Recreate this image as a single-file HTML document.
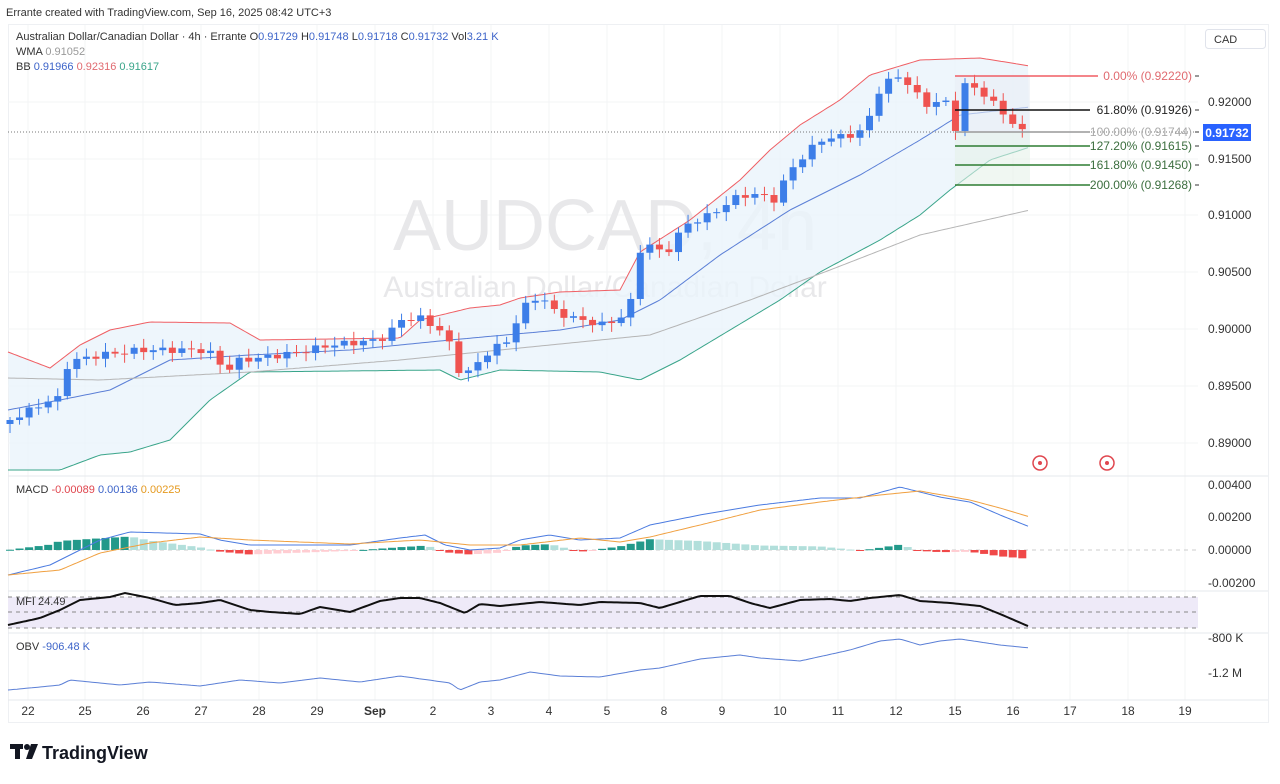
<!DOCTYPE html>
<html><head><meta charset="utf-8">
<style>
html,body{margin:0;padding:0;background:#fff;}
body{width:1280px;height:779px;overflow:hidden;font-family:"Liberation Sans",sans-serif;}
svg text{font-family:"Liberation Sans",sans-serif;}
</style></head>
<body>
<svg id="s" width="1280" height="779" xmlns="http://www.w3.org/2000/svg"></svg>
<script>
const S=document.getElementById('s');
let h='';
function interp(pts,x){ if(x<=pts[0][0])return pts[0][1]; for(let i=1;i<pts.length;i++){ if(x<=pts[i][0]){const a=pts[i-1],b=pts[i];return a[1]+(b[1]-a[1])*(x-a[0])/(b[0]-a[0]);}} return pts[pts.length-1][1];}
function poly(pts,col,w,x0,x1,dash){let d='';for(let x=x0;x<=x1;x+=3){d+=(d?'L':'M')+x+' '+interp(pts,x).toFixed(1);}h+=`<path d="${d}" fill="none" stroke="${col}" stroke-width="${w}" ${dash?'stroke-dasharray="'+dash+'"':''}/>`;}
h+=`<text x="6" y="16" font-size="11" fill="#333">Errante created with TradingView.com, Sep 16, 2025 08:42 UTC+3</text>`;
h+=`<rect x="8.5" y="24.5" width="1260" height="698" fill="none" stroke="#eef0f3"/>`;
const days=[[28,'22'],[85,'25'],[143,'26'],[201,'27'],[259,'28'],[317,'29'],[375,'Sep'],[433,'2'],[491,'3'],[549,'4'],[607,'5'],[664,'8'],[722,'9'],[780,'10'],[838,'11'],[896,'12'],[955,'15'],[1013,'16'],[1070,'17'],[1128,'18'],[1185,'19']];
days.forEach(d=>{h+=`<line x1="${d[0]}" y1="25" x2="${d[0]}" y2="700" stroke="#f3f4f6"/>`;h+=`<text x="${d[0]}" y="715" font-size="12" text-anchor="middle" fill="#333" ${d[1]=='Sep'?'font-weight="bold"':''}>${d[1]}</text>`;});
[[102,'0.92000'],[159,'0.91500'],[215,'0.91000'],[272,'0.90500'],[329,'0.90000'],[386,'0.89500'],[443,'0.89000']].forEach(p=>{h+=`<line x1="8" y1="${p[0]}" x2="1198" y2="${p[0]}" stroke="#f3f4f6"/><text x="1208" y="${p[0]+4}" font-size="12" fill="#333">${p[1]}</text>`;});
[476,591,633,700].forEach(y=>{h+=`<line x1="8" y1="${y}" x2="1268" y2="${y}" stroke="#e6e8ec"/>`;});
h+=`<text x="605" y="250" font-size="72" text-anchor="middle" fill="#e8e8ea">AUDCAD, 4h</text>`;
h+=`<text x="605" y="297" font-size="30" text-anchor="middle" fill="#e8e8ea">Australian Dollar/Canadian Dollar</text>`;
const up=[[8,352],[50,368],[80,345],[110,330],[150,322],[230,323],[260,340],[400,338],[420,320],[470,308],[500,305],[520,298],[560,292],[620,290],[640,252],[690,220],[740,180],[770,150],[800,125],[840,100],[870,75],[920,60],[980,58],[1030,66]];
const lo=[[8,470],[60,470],[100,455],[130,452],[170,440],[210,400],[250,372],[440,370],[460,380],[500,370],[600,372],[640,380],[680,360],[780,300],[820,272],[880,240],[920,215],[950,190],[990,160],[1030,147]];
let fill='';for(let x=8;x<=1030;x+=3)fill+=(fill?'L':'M')+x+' '+interp(up,x).toFixed(1);for(let x=1030;x>=8;x-=3)fill+='L'+x+' '+interp(lo,x).toFixed(1);
h+=`<path d="${fill}Z" fill="#eaf4fb" opacity="0.8"/>`;
poly(up,'#ef5f64',1,8,1030);poly(lo,'#3aa58a',1,8,1030);
poly([[8,410],[60,400],[110,390],[170,360],[250,355],[350,350],[450,340],[560,330],[620,320],[660,300],[720,255],[790,210],[860,175],[920,140],[960,115],[1030,107]],'#5b7fd6',1,8,1030);
poly([[8,378],[100,380],[250,372],[400,360],[500,350],[650,335],[750,300],[830,270],[920,235],[1030,210]],'#b5b5b5',1,8,1030);
h+=`<rect x="955" y="76" width="75" height="56" fill="#e9eef5" opacity="0.6"/><rect x="955" y="132" width="75" height="53" fill="#e6f2ea" opacity="0.6"/>`;
const cp=[[10,420],[30,410],[50,400],[62,398],[68,362],[100,355],[140,350],[200,350],[215,355],[225,372],[240,360],[260,358],[300,352],[330,345],[380,340],[392,330],[400,320],[420,318],[440,330],[450,345],[458,370],[470,372],[490,350],[510,340],[520,310],[540,295],[555,312],[580,320],[605,325],[620,318],[632,300],[637,252],[650,245],[665,255],[685,225],[710,215],[740,195],[760,195],[775,200],[790,170],[805,155],[820,140],[850,135],[865,130],[878,92],[895,75],[905,80],[925,105],[945,100],[955,130],[965,85],[980,90],[995,105],[1010,120],[1022,132]];
let prev=interp(cp,10)+4;
for(let i=0;i<=106;i++){const x=10+i*9.55;let c=interp(cp,x)+Math.sin(i*2.3)*3;const o=prev;prev=c;const top=Math.min(o,c),bot=Math.max(o,c);const col=c<o?'#3d7ee8':'#ef5350';const hi=top-3-Math.abs(Math.sin(i*1.7))*6,lw=bot+3+Math.abs(Math.cos(i*1.3))*6;
h+=`<line x1="${x}" y1="${hi}" x2="${x}" y2="${lw}" stroke="${col}"/><rect x="${x-3.5}" y="${top}" width="7" height="${Math.max(1,bot-top)}" fill="${col}"/>`;}
h+=`<line x1="8" y1="132" x2="1198" y2="132" stroke="#777" stroke-dasharray="1,2"/>`;
const fib=[[76,'#f05d64','0.00% (0.92220)','#e06a70'],[110,'#111','61.80% (0.91926)','#222'],[132,'#999','100.00% (0.91744)','#aaa'],[146,'#2e7d32','127.20% (0.91615)','#3b6e3e'],[165,'#2e7d32','161.80% (0.91450)','#3b6e3e'],[185,'#2e7d32','200.00% (0.91268)','#3b6e3e']];
fib.forEach(f=>{h+=`<line x1="955" y1="${f[0]}" x2="${f[2].length>15?1090:1098}" y2="${f[0]}" stroke="${f[1]}" stroke-width="1.5"/><text x="1192" y="${f[0]+4}" font-size="12" text-anchor="end" fill="${f[3]}">${f[2]}</text><line x1="1195" y1="${f[0]}" x2="1199" y2="${f[0]}" stroke="#333"/>`;});
h+=`<rect x="1203" y="124" width="48" height="17" fill="#2962ff"/><text x="1227" y="137" font-size="12" font-weight="bold" text-anchor="middle" fill="#fff">0.91732</text>`;
h+=`<rect x="1205.5" y="29.5" width="60" height="19" fill="#fff" stroke="#e0e3eb" rx="3"/><text x="1214" y="43" font-size="11" fill="#333">CAD</text>`;
[1040,1107].forEach(x=>{h+=`<circle cx="${x}" cy="463" r="7" fill="#fff" stroke="#e0464e" stroke-width="1.5"/><circle cx="${x}" cy="463" r="2" fill="#e0464e"/>`;});
h+=`<text x="16" y="40" font-size="11" fill="#333">Australian Dollar/Canadian Dollar · 4h · Errante  <tspan fill="#333">O</tspan><tspan fill="#3d64c9">0.91729</tspan> H<tspan fill="#3d64c9">0.91748</tspan> L<tspan fill="#3d64c9">0.91718</tspan> C<tspan fill="#3d64c9">0.91732</tspan> Vol<tspan fill="#3d64c9">3.21 K</tspan></text>`;
h+=`<text x="16" y="55" font-size="11" fill="#333">WMA <tspan fill="#999">0.91052</tspan></text>`;
h+=`<text x="16" y="70" font-size="11" fill="#333">BB <tspan fill="#3d64c9">0.91966</tspan> <tspan fill="#e06a70">0.92316</tspan> <tspan fill="#3aa58a">0.91617</tspan></text>`;
[[485,'0.00400'],[517,'0.00200'],[550,'0.00000'],[583,'-0.00200']].forEach(p=>{h+=`<text x="1208" y="${p[0]+4}" font-size="12" fill="#333">${p[1]}</text>`;});
h+=`<line x1="8" y1="550" x2="1198" y2="550" stroke="#ccc" stroke-dasharray="4,4"/>`;
const mb=[[8,575],[50,565],[70,555],[100,540],[130,532],[200,534],[220,540],[250,545],[350,545],[400,538],[425,535],[445,545],[470,550],[500,548],[520,540],[550,535],[580,540],[620,538],[650,525],[700,515],[760,505],[820,498],[860,498],[900,487],[940,497],[970,502],[1000,515],[1030,527]];
const ms=[[8,575],[60,570],[100,553],[150,543],[200,537],[250,540],[350,544],[420,540],[470,545],[520,545],[580,538],[620,542],[650,537],[700,525],[760,510],[820,502],[880,495],[920,491],[970,500],[1000,508],[1030,517]];
let ph=0;
for(let i=0;i<=106;i++){const x=10+i*9.55;let v=(interp(ms,x)-interp(mb,x))*0.9;const col=v>=0?(v>=ph?'#22998a':'#b2dfdb'):(v<=ph?'#f04848':'#ffcdd2');ph=v;const y=v>=0?550-v:550;h+=`<rect x="${x-4}" y="${y}" width="8" height="${Math.max(1,Math.abs(v))}" fill="${col}"/>`;}
poly(mb,'#4b7be0',1,8,1030);poly(ms,'#f0a040',1,8,1030);
h+=`<text x="16" y="493" font-size="11" fill="#333">MACD <tspan fill="#e0464e">-0.00089</tspan> <tspan fill="#3d64c9">0.00136</tspan> <tspan fill="#e59a20">0.00225</tspan></text>`;
h+=`<rect x="8" y="597" width="1190" height="31" fill="#eeeaf8"/>`;
[597,612,628].forEach(y=>{h+=`<line x1="8" y1="${y}" x2="1198" y2="${y}" stroke="#888" stroke-dasharray="4,4"/>`;});
poly([[8,625],[40,618],[60,610],[80,600],[110,597],[125,593],[150,598],[175,605],[200,603],[220,600],[250,610],[270,612],[300,614],[320,607],[350,612],[380,601],[400,598],[420,598],[440,603],[465,613],[480,604],[500,606],[540,602],[580,605],[600,602],[640,603],[660,608],[700,596],[730,596],[750,603],[770,608],[800,600],[830,599],[850,601],[870,598],[900,595],[920,601],[950,603],[980,606],[1000,614],[1030,627]],'#111',2,8,1030);
h+=`<text x="16" y="605" font-size="11" fill="#333">MFI 24.49</text>`;
poly([[8,690],[40,687],[60,685],[70,680],[120,685],[150,682],[200,686],[240,680],[280,683],[320,678],[360,682],[400,676],[450,683],[460,690],[480,682],[500,680],[530,672],[560,676],[600,677],[640,670],[660,668],[700,659],[740,655],[760,658],[800,661],[850,650],[880,641],[900,639],[920,645],[940,641],[960,639],[980,642],[1000,645],[1030,648]],'#5b7fd6',1,8,1030);
h+=`<text x="16" y="650" font-size="11" fill="#333">OBV <tspan fill="#3d64c9">-906.48 K</tspan></text>`;
h+=`<text x="1208" y="642" font-size="12" fill="#333">-800 K</text><text x="1208" y="677" font-size="12" fill="#333">-1.2 M</text>`;
h+=`<rect x="10" y="744" width="13" height="5" fill="#131722"/><rect x="15" y="744" width="5" height="15" fill="#131722"/><circle cx="27" cy="747" r="3" fill="#131722"/><path d="M31 744 L38 744 L32 759 L26 759 Z" fill="#131722"/>`;
h+=`<text x="42" y="759" font-size="18" font-weight="bold" fill="#131722">TradingView</text>`;
S.innerHTML=h;
</script>
</body></html>
